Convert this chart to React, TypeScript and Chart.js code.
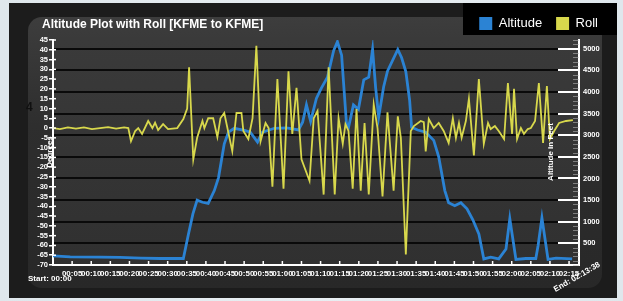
import React, { useEffect, useRef } from 'react';
import { Chart, registerables } from 'chart.js';

Chart.register(...registerables);

const FONT = '"Liberation Sans", Arial, Helvetica, sans-serif';

const chartTitle = 'Altitude Plot with Roll [KFME to KFME]';
const seriesNames = ['Altitude', 'Roll'];
const startLabel = 'Start: 00:00';
const endLabel = 'End: 02:13:38';
const leftAxisTitle = 'Degrees';
const rightAxisTitle = 'Altitude in Feet';
const strayMark = '4';

// time in minutes since start
const altitudeMinutes = [
  0, 4.5, 12.3, 17.5, 23, 28, 34.1, 35.4, 36.6, 37.7, 39.1, 40.6, 42.2, 43.3, 44.8, 45.9,
  47.4, 50.1, 51.6, 53.5, 54.8, 57.9, 61.1, 64.2, 65.3, 66.3, 67.4, 68.9, 70.2, 71.8,
  73.4, 74.4, 75.5, 76.8, 77.3, 78.6, 79.9, 81.3, 82.6, 83.6, 84.4, 85.2, 86.5, 87.5,
  90.2, 91.2, 92.3, 93.3, 93.8, 95.4, 97.5, 99.6, 100.9, 102.5, 103.5, 105.1, 106.7,
  108.3, 109.8, 111.4, 112.7, 114.5, 116.6, 118.5, 119.5, 121.1, 123.7, 126.3, 126.9,
  127.9, 129.5, 131.6, 135.8,
];
const altitudeFeet = [
  210, 190, 180, 175, 160, 150, 150, 700, 1180, 1500, 1450, 1425, 1720, 2020, 2800, 3070,
  3160, 3110, 3070, 2840, 3070, 3160, 3170, 3120, 3300, 3700, 3320, 3850, 4090, 4340,
  4950, 5160, 4850, 3230, 3180, 3700, 3600, 4280, 4340, 4980, 4100, 3420, 4120, 4480,
  4980, 4790, 4470, 3800, 3180, 3120, 3070, 2880, 2500, 1720, 1440, 1370, 1440,
  1300, 1050, 720, 140, 180, 140, 370, 1070, 130, 150, 150, 450,
  1090, 130, 160, 140,
];

const rollMinutes = [
  0, 1.8, 3.9, 6.0, 8.1, 10.2, 12.3, 14.4, 16.5, 18.6, 19.7, 20.4, 21.5, 22.3, 23.3, 24.9,
  26.0, 26.7, 27.5, 28.8, 30.1, 32.5, 34.1, 35.1, 35.6, 36.7, 37.7, 39.1, 39.6, 40.6,
  41.9, 43.0, 43.8, 44.8, 46.9, 48.0, 49.3, 49.8, 51.1, 52.2, 53.2, 54.3, 55.6, 56.4,
  57.4, 58.7, 60.3, 61.6, 62.6, 63.7, 65.0, 67.1, 68.2, 69.2, 70.8, 72.1, 73.7, 74.7,
  75.8, 76.5, 77.3, 78.4, 79.4, 80.5, 81.5, 82.6, 83.9, 84.9, 86.2, 87.5, 89.1, 90.2,
  91.0, 92.3, 93.6, 94.4, 96.2, 97.0, 97.5, 98.3, 99.6, 100.9, 102.2, 103.5, 104.6,
  105.4, 106.2, 106.9, 108.0, 108.8, 110.1, 111.4, 112.7, 113.8, 114.5, 115.6, 116.6,
  118.0, 119.0, 120.1, 120.6, 121.4, 122.4, 123.2, 124.2, 125.0, 126.1, 127.1, 128.2,
  129.2, 130.0, 131.1, 132.4, 134.2, 136.0,
];
const rollDegrees = [
  0, -0.5, 0.3, -0.3, 0.3, -0.5, 0, 0.5, -0.3, 0.3, 0, -6.7, -1.5, 0, -3, 3.6,
  0, 2.7, -1, 2, -0.5, 0, 4.6, 10, 31, -16, -5, 3.6, 0, 5,
  5, -4.6, 5, 7.7, -11.8, 7.7, 7.7, -1.5, -5.6, 5, 42, -6.7, 2.6, 0,
  -30, 25, -31, 29, -3, 20.5, -16, -27, 5, 8.7, -34, 31, -34, 5,
  -8, 2, -1.5, -31, 9.7, -32, 2.6, -34, 12, 0, -35, 8, -32, 6,
  -5, -64.6, -1.5, 1, 3.6, 3, -12, 4.6, 0, 2.6, -1.5, -7.6, 5,
  -5, 2.6, -5, 3.6, 15, -14, 25, -8, 2.6, -0.5, 1, -1.5,
  -5.6, 23, -3, 20, -5.6, 0, -3, -0.5, 0, 3.6, 23, -7.6,
  21.5, -5.6, -1.5, 2.6, 3.6, 4,
];

// tick positions
const timeTicks = [
  0, 5, 10, 15, 20, 25, 30, 35, 40, 45, 50, 55, 60, 65, 70, 75, 80, 85, 90, 95, 100,
  105, 110, 115, 120, 125, 130, 135,
];
const altitudeTicks = [0, 500, 1000, 1500, 2000, 2500, 3000, 3500, 4000, 4500, 5000];

const timeMax = 137.6;
const rollMin = -70;
const rollMax = 45;
const rollStep = 5;
const altMin = 0;
const altMax = 5200;
const altMinorStep = 100;

const altitudeColor = '#2b83d4';
const rollColor = '#d8d84c';

const pad2 = (n: number) => String(n).padStart(2, '0');
const fmtTime = (v: number) => `${pad2(Math.floor(v / 60))}:${pad2(Math.round(v % 60))}`;

const extras = {
  id: 'extras',
  beforeDraw(chart: any) {
    const { ctx, chartArea: a, scales } = chart;
    const yA = scales.yAlt;
    ctx.save();
    ctx.fillStyle = '#000';
    ctx.fillRect(463, 3, 154, 32);
    const g = ctx.createLinearGradient(0, a.top, 0, a.bottom);
    g.addColorStop(0, '#3a3a3a');
    g.addColorStop(1, '#303030');
    ctx.fillStyle = g;
    ctx.fillRect(a.left, a.top, a.right - a.left, a.bottom - a.top);
    // horizontal grid lines at the altitude ticks
    ctx.strokeStyle = '#0a0a0a';
    ctx.lineWidth = 2;
    for (const v of altitudeTicks) {
      if (v <= 0) continue;
      const py = Math.round(yA.getPixelForValue(v));
      ctx.beginPath();
      ctx.moveTo(a.left, py);
      ctx.lineTo(a.right, py);
      ctx.stroke();
    }
    ctx.restore();
  },
  afterDraw(chart: any) {
    const { ctx, chartArea: a, scales } = chart;
    const yA = scales.yAlt;
    const yR = scales.yRoll;
    const x = scales.x;
    ctx.save();
    // right axis minor ticks
    ctx.strokeStyle = 'rgba(190,190,190,0.55)';
    ctx.lineWidth = 1;
    for (let v = altMin; v <= altMax; v += altMinorStep) {
      const py = Math.round(yA.getPixelForValue(v)) + 0.5;
      ctx.beginPath();
      ctx.moveTo(a.right - 6, py);
      ctx.lineTo(a.right, py);
      ctx.stroke();
    }
    // right axis major inner ticks
    ctx.strokeStyle = '#ffffff';
    ctx.lineWidth = 2;
    altitudeTicks.forEach((v) => {
      if (v <= 0) return;
      const py = Math.round(yA.getPixelForValue(v));
      ctx.beginPath();
      ctx.moveTo(a.right - 21, py);
      ctx.lineTo(a.right, py);
      ctx.stroke();
    });
    // x inner ticks
    ctx.lineWidth = 1.5;
    timeTicks.forEach((v) => {
      const px = x.getPixelForValue(v);
      ctx.beginPath();
      ctx.moveTo(px, a.bottom);
      ctx.lineTo(px, a.bottom - 4);
      ctx.stroke();
    });
    // left ticks crossing the axis
    yR.ticks.forEach((t: any) => {
      const py = yR.getPixelForValue(t.value);
      ctx.beginPath();
      ctx.moveTo(a.left, py);
      ctx.lineTo(a.left + 3, py);
      ctx.stroke();
    });
    // title
    ctx.fillStyle = '#ffffff';
    ctx.textBaseline = 'middle';
    ctx.textAlign = 'left';
    ctx.font = `bold 12px ${FONT}`;
    ctx.fillText(chartTitle, 42, 25);
    // start label
    ctx.font = `bold 8px ${FONT}`;
    ctx.fillText(startLabel, 28, 279);
    // end label rotated
    ctx.save();
    ctx.translate(577, 277);
    ctx.rotate(-Math.PI / 6);
    ctx.textAlign = 'center';
    ctx.fillText(endLabel, 0, 0);
    ctx.restore();
    // axis titles
    ctx.save();
    ctx.translate(551, 152);
    ctx.rotate(-Math.PI / 2);
    ctx.textAlign = 'center';
    ctx.font = `bold 8px ${FONT}`;
    ctx.fillText(rightAxisTitle, 0, 0);
    ctx.restore();
    ctx.save();
    ctx.translate(50, 152);
    ctx.rotate(-Math.PI / 2);
    ctx.textAlign = 'center';
    ctx.font = `bold 8px ${FONT}`;
    ctx.fillText(leftAxisTitle, 0, 0);
    ctx.restore();
    // stray mark
    ctx.fillStyle = '#101010';
    ctx.font = `bold 12px ${FONT}`;
    ctx.fillText(strayMark, 26, 108);
    ctx.restore();
  },
};

export default function App() {
  const ref = useRef<HTMLCanvasElement>(null);

  useEffect(() => {
    if (!ref.current) return;
    const chart = new Chart(ref.current, {
      type: 'line',
      data: {
        datasets: [
          {
            label: seriesNames[0],
            data: altitudeMinutes.map((t, i) => ({ x: t, y: altitudeFeet[i] })),
            yAxisID: 'yAlt',
            borderColor: altitudeColor,
            backgroundColor: altitudeColor,
            borderWidth: 2.8,
            pointRadius: 0,
            tension: 0,
            fill: false,
            order: 1,
          },
          {
            label: seriesNames[1],
            data: rollMinutes.map((t, i) => ({ x: t, y: rollDegrees[i] })),
            yAxisID: 'yRoll',
            borderColor: rollColor,
            backgroundColor: rollColor,
            borderWidth: 1.8,
            pointRadius: 0,
            tension: 0,
            fill: false,
            order: 0,
          },
        ],
      },
      options: {
        animation: false,
        responsive: false,
        devicePixelRatio: 1,
        layout: { padding: { left: 0, right: 11, top: 0, bottom: 0 } },
        plugins: {
          title: { display: false },
          tooltip: { enabled: false },
          legend: {
            display: true,
            position: 'top',
            align: 'end',
            labels: {
              color: '#ffffff',
              boxWidth: 13,
              boxHeight: 13,
              padding: 14,
              font: { size: 13, family: FONT },
              sort: (a: any, b: any) => a.datasetIndex - b.datasetIndex,
              generateLabels: (c: any) =>
                c.data.datasets.map((ds: any, i: number) => ({
                  text: ds.label,
                  fillStyle: ds.borderColor,
                  strokeStyle: ds.borderColor,
                  lineWidth: 0,
                  hidden: false,
                  datasetIndex: i,
                  fontColor: '#ffffff',
                })),
            },
          },
        },
        scales: {
          x: {
            type: 'linear',
            position: 'bottom',
            min: 0,
            max: timeMax,
            afterBuildTicks: (s: any) => {
              s.ticks = timeTicks.map((v) => ({ value: v }));
            },
            afterFit: (s: any) => {
              s.height = 36;
            },
            ticks: {
              autoSkip: false,
              maxRotation: 0,
              minRotation: 0,
              color: '#ffffff',
              padding: 4,
              font: { size: 8, weight: 'bold', family: FONT },
              callback: (v: any) => (Number(v) === 0 ? '' : fmtTime(Number(v))),
            },
            grid: { drawOnChartArea: false, drawTicks: false },
            border: { color: '#ffffff', width: 2 },
          },
          yRoll: {
            type: 'linear',
            position: 'left',
            min: rollMin,
            max: rollMax,
            afterFit: (s: any) => {
              s.width = 53;
              s.paddingTop = 40;
            },
            ticks: {
              stepSize: rollStep,
              autoSkip: false,
              color: '#ffffff',
              padding: 1,
              font: { size: 7.5, weight: 'bold', family: FONT },
            },
            grid: { drawOnChartArea: false, color: '#ffffff', tickLength: 4, lineWidth: 1.5 },
            border: { color: '#ffffff', width: 2 },
          },
          yAlt: {
            type: 'linear',
            position: 'right',
            min: altMin,
            max: altMax,
            afterBuildTicks: (s: any) => {
              s.ticks = altitudeTicks.map((v) => ({ value: v }));
            },
            afterFit: (s: any) => {
              s.width = 33;
            },
            ticks: {
              autoSkip: false,
              color: '#ffffff',
              padding: 4,
              font: { size: 7.5, weight: 'bold', family: FONT },
              callback: (v: any) => (Number(v) === 0 ? '' : String(v)),
            },
            grid: { display: false, drawOnChartArea: false, drawTicks: false },
            border: { display: true, color: '#ffffff', width: 2 },
          },
        },
      },
      plugins: [extras],
    } as any);
    return () => chart.destroy();
  }, []);

  return (
    <div
      style={{
        position: 'fixed',
        left: 0,
        top: 0,
        width: 623,
        height: 301,
        background: 'linear-gradient(90deg, #dfe7ec 0%, #e8eef2 50%, #dfe7ec 100%)',
        overflow: 'hidden',
      }}
    >
      <div
        style={{
          position: 'absolute',
          left: 9,
          top: 3,
          width: 608,
          height: 295,
          background: '#1c1c1c',
        }}
      />
      <div
        style={{
          position: 'absolute',
          left: 28,
          top: 17,
          width: 574,
          height: 271,
          borderRadius: 14,
          background: 'linear-gradient(180deg, #3d3d3d 0%, #2e2e2e 40%, #282828 100%)',
        }}
      />
      <canvas
        ref={ref}
        width={623}
        height={301}
        style={{ position: 'absolute', left: 0, top: 0, width: 623, height: 301 }}
      />
    </div>
  );
}
